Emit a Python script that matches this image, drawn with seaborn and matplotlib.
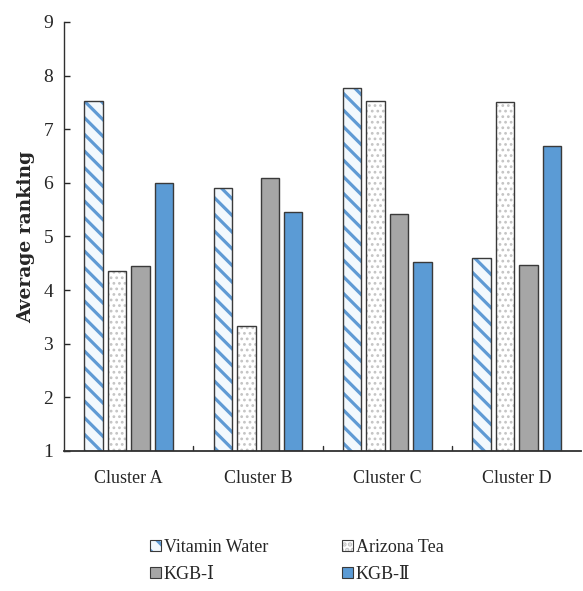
import matplotlib
matplotlib.use("Agg")
import matplotlib.pyplot as plt
import seaborn as sns
import pandas as pd
from matplotlib.patches import Patch

clusters = ["Cluster A", "Cluster B", "Cluster C", "Cluster D"]
brands = ["Vitamin Water", "Arizona Tea", "KGB-Ⅰ", "KGB-Ⅱ"]
vitamin_water = [7.52, 5.90, 7.76, 4.60]
arizona_tea = [4.36, 3.33, 7.52, 7.51]
kgb_1 = [4.45, 6.09, 5.42, 4.47]
kgb_2 = [6.00, 5.46, 4.53, 6.69]
y_ticks = [1, 2, 3, 4, 5, 6, 7, 8, 9]

rows = []
for brand, vals in zip(brands, [vitamin_water, arizona_tea, kgb_1, kgb_2]):
    for c, v in zip(clusters, vals):
        rows.append({"cluster": c, "brand": brand, "ranking": v})
df = pd.DataFrame(rows)

sns.set_theme(style="white")
plt.rcParams["font.family"] = ["Liberation Serif", "DejaVu Serif"]
plt.rcParams["hatch.linewidth"] = 2.3

blue = "#5b9bd5"
fills = {"Vitamin Water": "#f2f8fd", "Arizona Tea": "#ffffff",
         "KGB-Ⅰ": "#a6a6a6", "KGB-Ⅱ": blue}
hatches = {"Vitamin Water": "\\\\", "Arizona Tea": "...",
           "KGB-Ⅰ": None, "KGB-Ⅱ": None}
hatch_colors = {"Vitamin Water": "#5f9ad4", "Arizona Tea": "#c4c4c4",
                "KGB-Ⅰ": "#404040", "KGB-Ⅱ": "#404040"}
hatch_widths = {"Vitamin Water": 2.3, "Arizona Tea": 1.2,
                "KGB-Ⅰ": 1.0, "KGB-Ⅱ": 1.0}


def style_hatch(p, brand):
    if not hatches[brand]:
        return
    p.set_hatch(hatches[brand])
    if hasattr(p, "set_hatchcolor"):
        p.set_hatchcolor(hatch_colors[brand])
    else:
        p._hatch_color = matplotlib.colors.to_rgba(hatch_colors[brand])
    if hasattr(p, "set_hatch_linewidth"):
        p.set_hatch_linewidth(hatch_widths[brand])
    else:
        p._hatch_linewidth = hatch_widths[brand]


fig = plt.figure(figsize=(5.83, 5.91), dpi=100)
ax = fig.add_axes([0.110, 0.237, 0.887, 0.726])

sns.barplot(data=df, x="cluster", y="ranking", hue="brand", order=clusters,
            hue_order=brands, palette=[fills[b] for b in brands],
            width=0.725, gap=0.21, saturation=1, legend=False,
            edgecolor="#3a3a3a", linewidth=1.0, ax=ax)

# bars start from the bottom of the ranking scale
ax.set_ylim(1, 9)
for brand, cont in zip(brands, ax.containers):
    for p in cont.patches:
        style_hatch(p, brand)
        h = p.get_height()
        p.set_y(1)
        p.set_height(h - 1)

ax.set_xlim(-0.5, 3.5)
ax.set_yticks(y_ticks)
ax.set_yticklabels([str(t) for t in y_ticks], fontsize=14)
ax.set_xticks(range(len(clusters)))
ax.set_xticklabels(clusters, fontsize=13)
ax.tick_params(axis="x", length=0, pad=14)
ax.tick_params(axis="y", direction="in", length=4, width=1, pad=8, left=True)
ax.set_xlabel("")
ax.set_ylabel("Average ranking", fontsize=13.5, fontweight="bold",
              family="DejaVu Serif", labelpad=6)

for x in [0.5, 1.5, 2.5]:
    ax.axvline(x, ymin=0, ymax=0.012, color="#303030", lw=1)

sns.despine(ax=ax)
ax.spines["left"].set_color("#303030")
ax.spines["bottom"].set_color("#303030")
ax.spines["left"].set_linewidth(1.0)
ax.spines["bottom"].set_linewidth(1.3)

handle_map = {}
for b in brands:
    h = Patch(facecolor=fills[b], edgecolor="#3a3a3a", linewidth=0.8)
    style_hatch(h, b)
    handle_map[b] = h
# column-wise fill: first row Vitamin Water / Arizona Tea, second row KGB-Ⅰ / KGB-Ⅱ
legend_order = ["Vitamin Water", "KGB-Ⅰ", "Arizona Tea", "KGB-Ⅱ"]
fig.legend([handle_map[b] for b in legend_order], legend_order, loc="center",
           bbox_to_anchor=(0.509, 0.051), ncol=2, frameon=False, fontsize=13,
           handlelength=0.6, handleheight=0.6, handletextpad=0.15,
           columnspacing=4.1, labelspacing=0.55)

fig.savefig("out.png", dpi=100)
